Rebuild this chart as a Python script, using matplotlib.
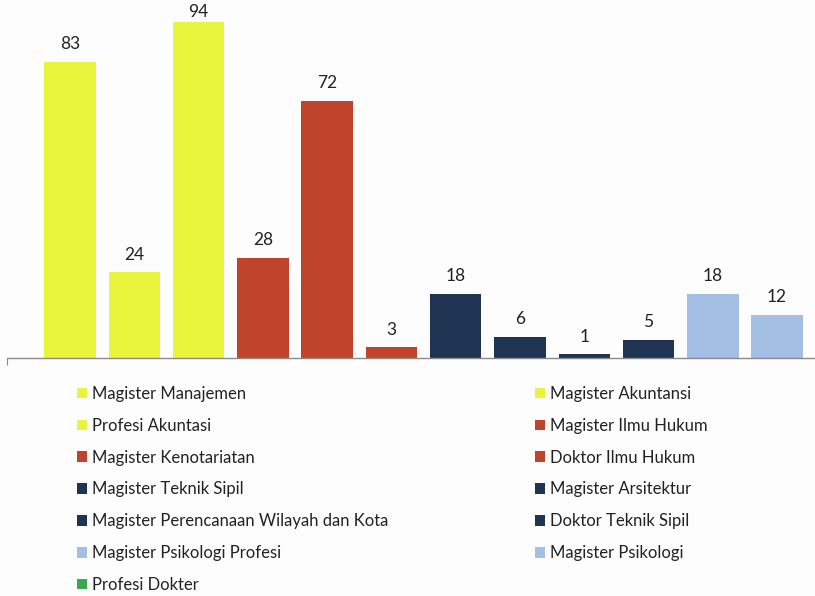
import matplotlib.pyplot as plt
import numpy as np
from matplotlib.patches import Patch

plt.rcParams['font.family'] = ['Lato', 'DejaVu Sans']

# data
programs = [
    "Magister Manajemen", "Magister Akuntansi", "Profesi Akuntasi",
    "Magister Ilmu Hukum", "Magister Kenotariatan", "Doktor Ilmu Hukum",
    "Magister Teknik Sipil", "Magister Arsitektur",
    "Magister Perencanaan Wilayah dan Kota", "Doktor Teknik Sipil",
    "Magister Psikologi Profesi", "Magister Psikologi", "Profesi Dokter",
]
students = [83, 24, 94, 28, 72, 3, 18, 6, 1, 5, 18, 12, 0]
colors = [
    "#e9f43c", "#e9f43c", "#e9f43c",
    "#c0442c", "#c0442c", "#c0442c",
    "#1f3452", "#1f3452", "#1f3452", "#1f3452",
    "#a3bfe3", "#a3bfe3", "#3aa84e",
]

fig = plt.figure(figsize=(8.15, 5.96), dpi=100, facecolor="#fdfdfd")
ax = fig.add_axes([7 / 815, 238 / 596, 808 / 815, 357 / 596])
ax.set_facecolor("#fdfdfd")

x = np.arange(len(programs))
bars = ax.bar(x, students, width=0.8, color=colors)
top = max(students)
# the tallest label sits closer to its bar (no room above it)
labels = [str(v) if 0 < v < top else "" for v in students]
top_label = [str(v) if v == top else "" for v in students]
ax.bar_label(bars, labels=labels, padding=7, fontsize=12.5, color="#222222")
ax.bar_label(bars, labels=top_label, padding=2, fontsize=12.5, color="#222222")

ax.set_xlim(-0.98, 11.59)
ax.set_ylim(0, 100)
for side in ["top", "right", "left"]:
    ax.spines[side].set_visible(False)
ax.spines["bottom"].set_color("#8a8a8a")
ax.spines["bottom"].set_linewidth(1.0)
ax.set_yticks([])
ax.set_xticks([-0.98])
ax.set_xticklabels([""])
ax.tick_params(axis="x", length=5, color="#8a8a8a")

# legend: two columns, filled row by row
handles = [Patch(facecolor=c, edgecolor="none") for c in colors]
order = list(range(0, 13, 2)) + list(range(1, 13, 2))
fig.legend([handles[i] for i in order], [programs[i] for i in order],
           ncol=2, loc="upper left", bbox_to_anchor=(62 / 815, 1 - 371 / 596),
           frameon=False, fontsize=12, handlelength=0.6, handleheight=0.6,
           handletextpad=0.3, labelspacing=0.95, columnspacing=8.8,
           labelcolor="#222222")

plt.savefig("out.png", dpi=100, facecolor=fig.get_facecolor())
